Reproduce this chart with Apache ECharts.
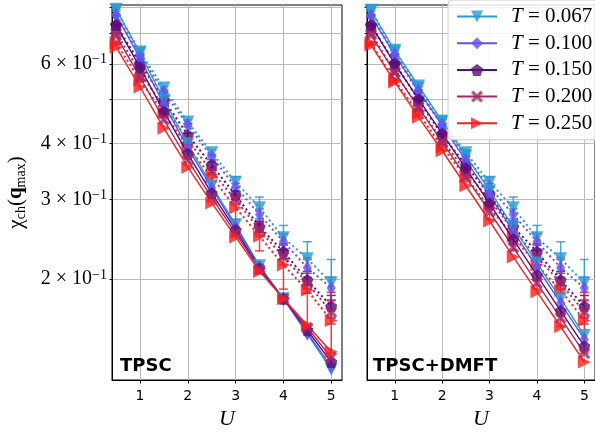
<!DOCTYPE html>
<html><head><meta charset="utf-8">
<script src="https://cdn.jsdelivr.net/npm/echarts@6/dist/echarts.min.js"></script>
<style>html,body{margin:0;padding:0;background:#fff}#c{width:595px;height:435px}</style>
</head><body><div id="c"></div>
<script>
// ---- data ----
const U = [0.5, 1, 1.5, 2, 2.5, 3, 3.5, 4, 4.5, 5];
const temps = ['0.067', '0.100', '0.150', '0.200', '0.250'];
const xTicks = [1, 2, 3, 4, 5];
const yTicks = [0.2, 0.3, 0.4, 0.5, 0.6, 0.7, 0.8];
const yLabels = [0.2, 0.3, 0.4, 0.6];
const panelTitles = ['TPSC', 'TPSC+DMFT'];

// reference data (dotted, with error bars) - same in both panels
const ref067 = [0.789, 0.637, 0.530, 0.446, 0.381, 0.328, 0.288, 0.247, 0.222, 0.196];
const ref100 = [0.769, 0.627, 0.519, 0.439, 0.373, 0.320, 0.278, 0.242, 0.212, 0.191];
const ref150 = [0.731, 0.602, 0.499, 0.417, 0.358, 0.307, 0.261, 0.230, 0.199, 0.174];
const ref200 = [0.702, 0.575, 0.481, 0.407, 0.346, 0.300, 0.257, 0.224, 0.196, 0.169];
const ref250 = [0.667, 0.552, 0.467, 0.392, 0.337, 0.288, 0.249, 0.215, 0.189, 0.162];
const err067 = [0.004, 0.004, 0.004, 0.005, 0.006, 0.009, 0.016, 0.016, 0.020, 0.025];
const err100 = [0.003, 0.003, 0.003, 0.004, 0.005, 0.006, 0.008, 0.010, 0.011, 0.011];
const err150 = [0.003, 0.003, 0.003, 0.004, 0.005, 0.006, 0.007, 0.008, 0.009, 0.010];
const err200 = [0.003, 0.003, 0.003, 0.004, 0.005, 0.007, 0.008, 0.009, 0.010, 0.010];
const err250 = [0.004, 0.004, 0.005, 0.006, 0.008, 0.017, 0.018, 0.025, 0.032, 0.025];

// TPSC (left panel, solid)
const tpsc067 = [0.793, 0.634, 0.499, 0.399, 0.322, 0.264, 0.214, 0.181, 0.151, 0.126];
const tpsc100 = [0.770, 0.617, 0.488, 0.391, 0.318, 0.261, 0.213, 0.181, 0.152, 0.128];
const tpsc150 = [0.731, 0.589, 0.470, 0.379, 0.310, 0.257, 0.211, 0.181, 0.154, 0.131];
const tpsc200 = [0.692, 0.561, 0.451, 0.367, 0.303, 0.253, 0.210, 0.181, 0.156, 0.134];
const tpsc250 = [0.653, 0.533, 0.432, 0.354, 0.295, 0.248, 0.208, 0.181, 0.158, 0.138];

// TPSC+DMFT (right panel, solid)
const dmft067 = [0.785, 0.643, 0.536, 0.448, 0.375, 0.314, 0.261, 0.217, 0.181, 0.150];
const dmft100 = [0.765, 0.628, 0.523, 0.438, 0.366, 0.307, 0.255, 0.2125, 0.177, 0.147];
const dmft150 = [0.730, 0.600, 0.501, 0.420, 0.352, 0.294, 0.245, 0.204, 0.170, 0.142];
const dmft200 = [0.695, 0.574, 0.480, 0.403, 0.337, 0.282, 0.235, 0.196, 0.164, 0.137];
const dmft250 = [0.660, 0.547, 0.457, 0.385, 0.322, 0.269, 0.224, 0.1875, 0.157, 0.131];

const refs = [ref067, ref100, ref150, ref200, ref250];
const errs = [err067, err100, err150, err200, err250];
const solids = [[tpsc067, tpsc100, tpsc150, tpsc200, tpsc250], [dmft067, dmft100, dmft150, dmft200, dmft250]];

// ---- styles ----
const colors = ['#289bd2', '#6450f0', '#5a0c78', '#a52869', '#fa1e1e'];
const pentagon = 'path://M0,-1 L0.951,-0.309 L0.588,0.809 L-0.588,0.809 L-0.951,-0.309 Z';
const xMark = 'path://M-1,-0.6 L-0.6,-1 L0,-0.4 L0.6,-1 L1,-0.6 L0.4,0 L1,0.6 L0.6,1 L0,0.4 L-0.6,1 L-1,0.6 L-0.4,0 Z';
const symbols = ['triangle', 'diamond', pentagon, xMark, 'triangle'];
const rotations = [180, 0, 0, 0, -90];
const sizes = [13, [9, 15], 12, 12, 13];

const serif = 'Liberation Serif';
const grids = [
  { left: 112, top: 5, width: 230, height: 376, show: true, borderColor: '#000', borderWidth: 1 },
  { left: 367, top: 5, width: 230, height: 376, show: true, borderColor: '#000', borderWidth: 1 }
];

function xAxis(gi) {
  return {
    type: 'value', gridIndex: gi, min: 0.414, max: 5.225,
    name: 'U', nameLocation: 'middle', nameGap: 28,
    nameTextStyle: { fontFamily: serif, fontStyle: 'italic', fontSize: 22, color: '#000' },
    axisLine: { show: true, lineStyle: { color: '#000', width: 1 } },
    axisTick: { show: true, length: 3.5, customValues: xTicks, lineStyle: { color: '#000' } },
    axisLabel: { customValues: xTicks, fontFamily: 'DejaVu Sans', fontSize: 14, color: '#000', margin: 9 },
    splitLine: { show: true, lineStyle: { color: '#bbbbbb', width: 1 } }
  };
}
function yAxis(gi) {
  return {
    type: 'log', logBase: 10, gridIndex: gi, min: 0.1195, max: 0.81,
    name: gi === 0 ? '{a|χ}{b|ch}{a|(}{q|q}{b|max}{a|)}' : '',
    nameLocation: 'middle', nameGap: 84,
    nameTextStyle: {
      color: '#000',
      rich: {
        a: { fontFamily: serif, fontSize: 21, color: '#000', lineHeight: 24 },
        q: { fontFamily: serif, fontSize: 21, fontWeight: 'bold', color: '#000', lineHeight: 24 },
        b: { fontFamily: serif, fontSize: 14, color: '#000', verticalAlign: 'bottom', lineHeight: 15 }
      }
    },
    axisLine: { show: true, lineStyle: { color: '#000', width: 1 } },
    axisTick: { show: true, length: 2.5, customValues: yTicks, lineStyle: { color: '#000' } },
    axisLabel: {
      show: gi === 0, customValues: yLabels, margin: 5,
      formatter: v => '{m|' + Math.round(v * 10) + ' × 10}{s|−1}',
      rich: {
        m: { fontFamily: serif, fontSize: 20, color: '#000', lineHeight: 22 },
        s: { fontFamily: serif, fontSize: 14, color: '#000', verticalAlign: 'top', lineHeight: 13 }
      }
    },
    splitLine: { show: true, lineStyle: { color: '#bbbbbb', width: 1 } }
  };
}

const series = [];
for (let gi = 0; gi < 2; gi++) {
  for (let k = 0; k < 5; k++) {
    const col = colors[k];
    // error bars
    series.push({
      type: 'custom', xAxisIndex: gi, yAxisIndex: gi, silent: true, z: 2,
      data: U.map((u, i) => [u, refs[k][i] - errs[k][i], refs[k][i] + errs[k][i]]),
      encode: { x: 0, y: [1, 2] },
      renderItem: (params, api) => {
        const x = api.value(0);
        const p1 = api.coord([x, api.value(1)]);
        const p2 = api.coord([x, api.value(2)]);
        const w = 4.5;
        const st = { stroke: col, lineWidth: 1.5, opacity: 0.85 };
        return {
          type: 'group', children: [
            { type: 'line', shape: { x1: p1[0], y1: p1[1], x2: p2[0], y2: p2[1] }, style: st },
            { type: 'line', shape: { x1: p1[0] - w, y1: p1[1], x2: p1[0] + w, y2: p1[1] }, style: st },
            { type: 'line', shape: { x1: p2[0] - w, y1: p2[1], x2: p2[0] + w, y2: p2[1] }, style: st }
          ]
        };
      }
    });
    // reference dotted
    series.push({
      type: 'line', name: 'ref ' + temps[k], xAxisIndex: gi, yAxisIndex: gi, z: 3,
      data: U.map((u, i) => [u, refs[k][i]]),
      symbol: symbols[k], symbolSize: sizes[k], symbolRotate: rotations[k],
      lineStyle: { color: col, width: 2, type: [2, 3] },
      itemStyle: { color: col, opacity: 0.8 }
    });
  }
  for (let k = 0; k < 5; k++) {
    const col = colors[k];
    series.push({
      type: 'line', name: 'T = ' + temps[k], xAxisIndex: gi, yAxisIndex: gi, z: 4,
      data: U.map((u, i) => [u, solids[gi][k][i]]),
      symbol: symbols[k], symbolSize: sizes[k], symbolRotate: rotations[k],
      lineStyle: { color: col, width: 1.4 },
      itemStyle: { color: col, opacity: 0.8 }
    });
  }
}

const option = {
  animation: false,
  backgroundColor: '#fff',
  grid: grids,
  xAxis: [xAxis(0), xAxis(1)],
  yAxis: [yAxis(0), yAxis(1)],
  legend: {
    orient: 'vertical', left: 448, top: 0,
    data: temps.map(t => 'T = ' + t),
    itemWidth: 40, itemHeight: 15, itemGap: 5.7,
    padding: [6, 12, 6, 8],
    backgroundColor: 'rgba(255,255,255,0.85)', borderColor: '#cccccc', borderWidth: 1, borderRadius: 4,
    formatter: name => '{i|T}{n| = ' + name.slice(4) + '}',
    textStyle: {
      padding: [0, 0, 0, 9],
      rich: {
        i: { fontFamily: serif, fontStyle: 'italic', fontSize: 21, color: '#000', lineHeight: 21 },
        n: { fontFamily: serif, fontSize: 21, color: '#000', lineHeight: 21 }
      }
    },
    selectedMode: false, z: 10
  },
  graphic: [
    { type: 'text', left: 120, top: 357, z: 20, style: { text: panelTitles[0], font: 'bold 18px "DejaVu Sans"', fill: '#000' } },
    { type: 'text', left: 373, top: 357, z: 20, style: { text: panelTitles[1], font: 'bold 18px "DejaVu Sans"', fill: '#000' } }
  ],
  series: series
};
const chart = echarts.init(document.getElementById('c'));
chart.setOption(option);
</script></body></html>
